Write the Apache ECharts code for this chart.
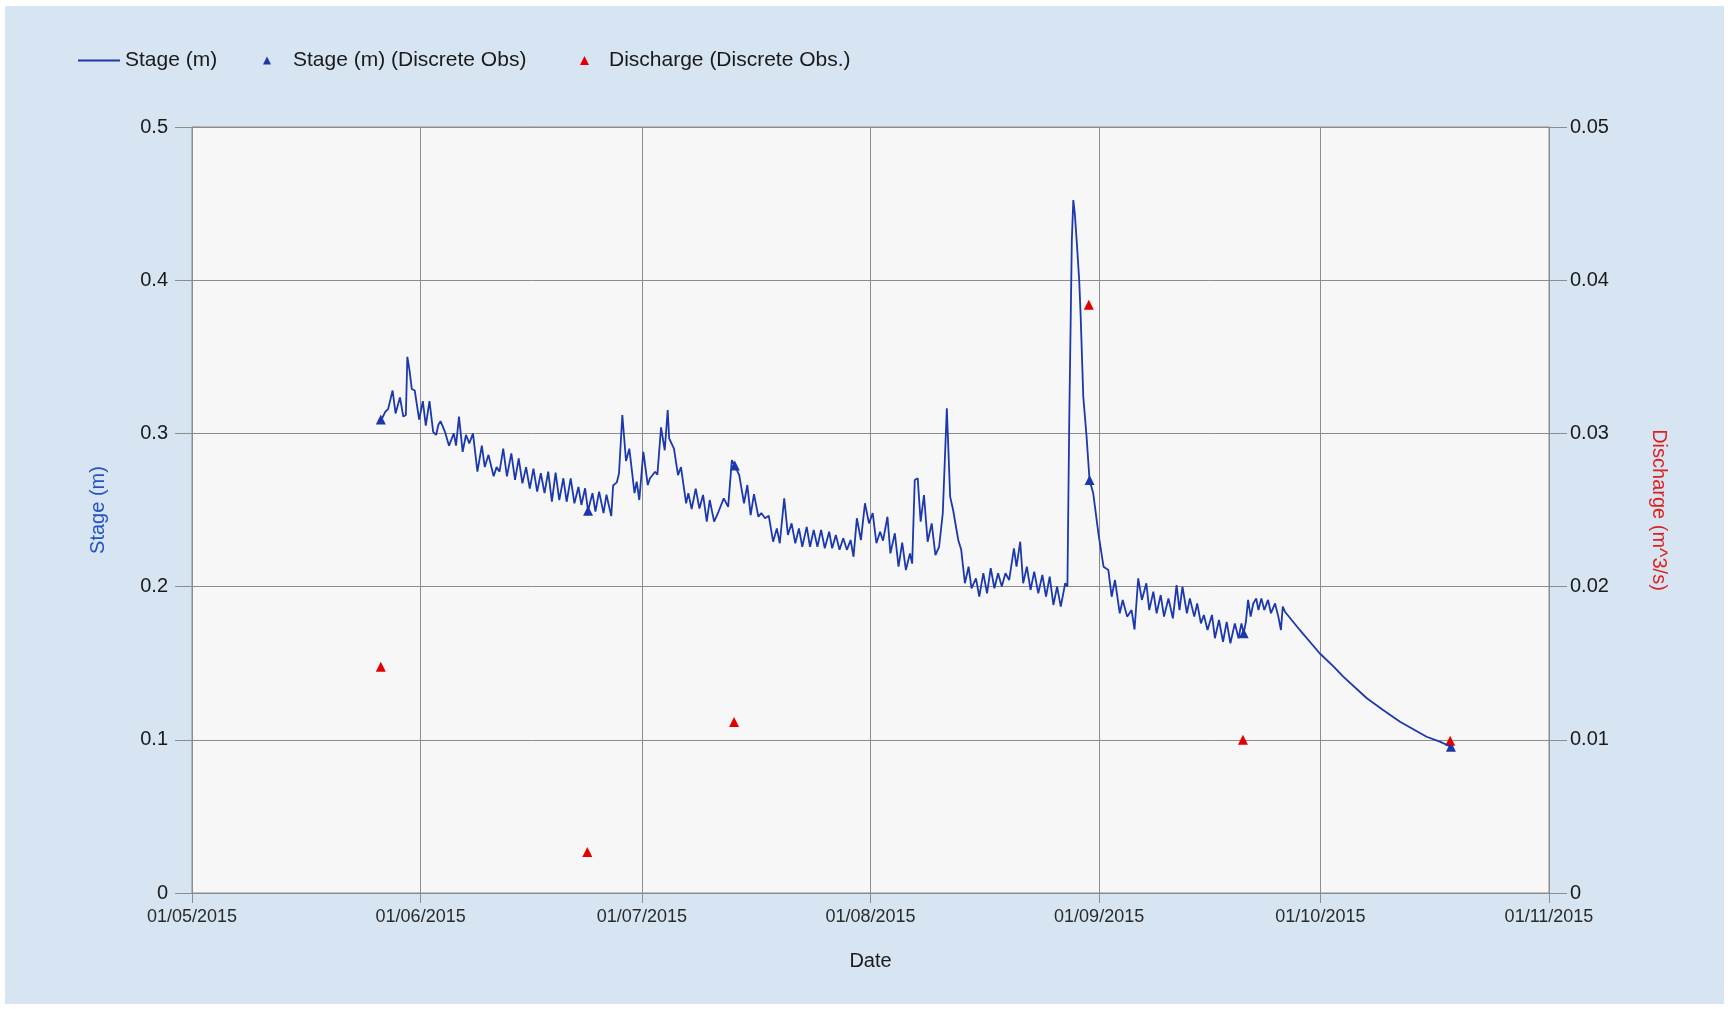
<!DOCTYPE html>
<html><head><meta charset="utf-8">
<script src="https://cdn.jsdelivr.net/npm/echarts@6/dist/echarts.min.js"></script>
<style>
html,body{margin:0;padding:0;background:#ffffff;width:1732px;height:1009px;overflow:hidden}
#c{position:absolute;left:5px;top:6px;width:1719px;height:998px;}
</style></head><body><div id="c"></div>
<script>
// x axis: month ticks
const xTickDates = ['2015-05-01','2015-06-01','2015-07-01','2015-08-01','2015-09-01','2015-10-01','2015-11-01'];
// stage continuous record: [days since 01/05/2015, stage m]
const stagePoints = [
[25.3,0.309],[25.6,0.308],[26.2,0.314],[26.6,0.316],[27.2,0.328],[27.6,0.313],[28.2,0.3235],[28.65,0.311],[29.0,0.312],
[29.2,0.350],[29.5,0.341],[29.8,0.329],[30.2,0.328],[30.8,0.309],[31.3,0.321],[31.7,0.305],[32.2,0.321],[32.7,0.301],
[33.1,0.299],[33.4,0.3055],[33.7,0.308],[34.3,0.301],[34.85,0.292],[35.5,0.300],[35.8,0.292],[36.2,0.311],[36.7,0.288],
[37.15,0.299],[37.6,0.2935],[38.1,0.300],[38.7,0.275],[39.3,0.292],[39.7,0.278],[40.2,0.286],[40.9,0.272],[41.3,0.278],
[41.7,0.275],[42.2,0.290],[42.7,0.272],[43.3,0.287],[43.8,0.2696],[44.3,0.2837],[44.8,0.2674],[45.3,0.278],[45.8,0.264],
[46.3,0.277],[46.8,0.262],[47.3,0.274],[47.8,0.261],[48.3,0.275],[48.8,0.2554],[49.3,0.2744],[49.8,0.2565],[50.35,0.2707],
[50.8,0.2554],[51.35,0.2707],[51.85,0.2544],[52.4,0.265],[52.8,0.2533],[53.3,0.2642],[53.7,0.2495],[54.3,0.261],[54.7,0.249],
[55.2,0.262],[55.8,0.248],[56.2,0.260],[56.85,0.246],[57.1,0.266],[57.6,0.268],[57.9,0.274],[58.35,0.312],[58.85,0.282],
[59.3,0.290],[60.0,0.261],[60.3,0.2685],[60.65,0.2565],[61.2,0.288],[61.8,0.2663],[62.1,0.2707],[62.8,0.275],[63.1,0.273],
[63.6,0.304],[64.1,0.289],[64.5,0.3153],[64.7,0.2968],[65.35,0.290],[65.9,0.2728],[66.3,0.278],[67.0,0.2544],[67.3,0.261],
[67.75,0.2506],[68.3,0.264],[68.8,0.251],[69.3,0.2598],[69.8,0.2424],[70.2,0.2565],[70.8,0.2424],[71.4,0.249],[72.1,0.2576],
[72.7,0.252],[73.2,0.2826],[73.6,0.279],[74.2,0.2728],[74.85,0.2544],[75.3,0.2663],[75.75,0.2467],[76.2,0.2604],[76.8,0.2456],
[77.2,0.248],[77.7,0.2446],[78.2,0.2463],[78.8,0.2293],[79.3,0.238],[79.7,0.2283],[80.3,0.2576],[80.8,0.2337],[81.3,0.2413],
[81.8,0.2283],[82.3,0.238],[82.75,0.226],[83.35,0.239],[83.8,0.226],[84.3,0.237],[84.8,0.226],[85.3,0.237],[85.8,0.225],
[86.4,0.2358],[86.8,0.225],[87.3,0.2337],[87.8,0.224],[88.3,0.2315],[88.8,0.224],[89.3,0.2304],[89.7,0.2195],[90.15,0.2446],
[90.7,0.2304],[91.25,0.2544],[91.8,0.2413],[92.3,0.248],[92.8,0.2283],[93.3,0.2358],[93.7,0.230],[94.3,0.2456],[94.7,0.2217],
[95.3,0.2348],[95.8,0.213],[96.3,0.2287],[96.8,0.2108],[97.35,0.2217],[97.65,0.215],[98.0,0.2696],[98.4,0.2707],[98.8,0.2424],
[99.25,0.2598],[99.75,0.2293],[100.3,0.2413],[100.8,0.2206],[101.3,0.226],[101.8,0.2478],[102.35,0.3164],[102.8,0.2587],
[103.2,0.250],[103.9,0.2304],[104.3,0.224],[104.8,0.2022],[105.3,0.213],[105.7,0.1989],[106.3,0.2054],[106.75,0.1934],
[107.3,0.2087],[107.8,0.1956],[108.3,0.212],[108.8,0.1989],[109.3,0.2087],[109.8,0.200],[110.3,0.2087],[110.8,0.2043],
[111.45,0.225],[111.8,0.213],[112.3,0.2293],[112.7,0.2022],[113.2,0.213],[113.7,0.1978],[114.2,0.2098],[114.75,0.1956],
[115.3,0.2076],[115.8,0.1934],[116.3,0.2065],[116.8,0.188],[117.3,0.200],[117.8,0.1869],[118.4,0.2022],[118.7,0.200],
[118.95,0.3087],[119.3,0.4262],[119.5,0.4523],[119.7,0.4437],[119.95,0.4262],[120.3,0.400],[120.5,0.3762],[120.85,0.324],
[121.3,0.2978],[121.7,0.2696],[122.2,0.2609],[122.9,0.2348],[123.6,0.213],[124.25,0.2108],[124.7,0.1934],[125.15,0.2043],
[125.8,0.1826],[126.2,0.1913],[126.8,0.1804],[127.4,0.1847],[127.8,0.172],[128.3,0.2054],[128.8,0.1913],[129.4,0.2022],
[129.8,0.1847],[130.35,0.1967],[130.8,0.1826],[131.35,0.1945],[131.8,0.1804],[132.4,0.1923],[133.0,0.1793],[133.5,0.201],
[133.9,0.1847],[134.3,0.200],[134.9,0.1826],[135.3,0.1923],[135.9,0.1804],[136.3,0.189],[136.8,0.176],[137.2,0.1815],
[137.7,0.1717],[138.3,0.1815],[138.7,0.1663],[139.25,0.1782],[139.8,0.164],[140.3,0.177],[140.8,0.163],[141.4,0.176],
[141.9,0.1663],[142.3,0.176],[142.6,0.1695],[142.9,0.177],[143.2,0.1913],[143.55,0.1804],[143.9,0.189],[144.3,0.1923],
[144.6,0.1847],[145.0,0.1923],[145.4,0.1847],[145.9,0.1913],[146.3,0.1826],[146.85,0.189],[147.3,0.1804],[147.65,0.1717],
[147.9,0.1869],[148.2,0.1836],[150.2,0.1717],[152.9,0.1565],[154.8,0.1477],[156.1,0.1412],[159.3,0.1271],[161.5,0.1195],
[163.8,0.1118],[167.4,0.102],[169.2,0.0988],[170.7,0.0955]
];
// discrete observations
const stageObsDays = [25.6, 53.7, 73.6, 121.7, 142.6, 170.7];
const stageObsValues = [0.309, 0.2495, 0.279, 0.2696, 0.1695, 0.0955];
const dischargeObsDays = [25.6, 53.6, 73.5, 121.6, 142.5, 170.6];
const dischargeObsValues = [0.01477, 0.00267, 0.01117, 0.0384, 0.0100, 0.00994];

const DAY = 86400000;
const t0 = new Date(2015, 4, 1).getTime();
const parseDay = s => { const p = s.split('-').map(Number); return new Date(p[0], p[1]-1, p[2]).getTime(); };
const xTicks = xTickDates.map(s => Math.round((parseDay(s) - t0) / DAY));
const pad = n => (n < 10 ? '0' : '') + n;
const fmtDay = v => { const d = new Date(t0 + v * DAY + 3600000 * 2); return pad(d.getDate()) + '/' + pad(d.getMonth()+1) + '/' + d.getFullYear(); };

const FONT = 'Liberation Sans, Arial, sans-serif';
const gridColor = '#8c8c8c';
const blue = '#1b38ad';
const red = '#e30000';

const chart = echarts.init(document.getElementById('c'));
chart.setOption({
  animation: false,
  backgroundColor: '#d7e4f1',
  textStyle: { fontFamily: FONT },
  legend: [
    { data: ['Stage (m)'], left: 68, top: 39, icon: 'rect', itemWidth: 42, itemHeight: 2,
      textStyle: { fontSize: 21, color: '#1a1a1a', fontFamily: FONT } },
    { data: ['Stage (m) (Discrete Obs)'], left: 253, top: 39, icon: 'triangle', itemWidth: 8, itemHeight: 8,
      textStyle: { fontSize: 21, color: '#1a1a1a', fontFamily: FONT, padding: [0, 0, 0, 17] } },
    { data: ['Discharge (Discrete Obs.)'], left: 570, top: 39, icon: 'triangle', itemWidth: 9, itemHeight: 9,
      textStyle: { fontSize: 21, color: '#1a1a1a', fontFamily: FONT, padding: [0, 0, 0, 15] } }
  ],
  grid: { left: 187, top: 121, width: 1357, height: 766, show: true, backgroundColor: '#f7f7f7', borderColor: gridColor, borderWidth: 1 },
  xAxis: {
    type: 'value', min: xTicks[0], max: xTicks[xTicks.length-1],
    name: 'Date', nameLocation: 'middle', nameGap: 58,
    nameTextStyle: { fontSize: 20, color: '#1a1a1a', fontFamily: FONT },
    axisLine: { show: true, lineStyle: { color: gridColor, width: 1 } },
    axisTick: { show: true, length: 10, customValues: xTicks, lineStyle: { color: gridColor } },
    axisLabel: { customValues: xTicks, formatter: v => fmtDay(v), fontSize: 18, color: '#2a2a2a', margin: 15, fontFamily: FONT, hideOverlap: false },
    splitLine: { show: true, lineStyle: { color: gridColor, width: 1 } }
  },
  yAxis: [
    { type: 'value', min: 0, max: 0.5, interval: 0.1, position: 'left',
      name: 'Stage (m)', nameLocation: 'middle', nameGap: 84,
      nameTextStyle: { fontSize: 20, color: '#2353c6', fontFamily: FONT },
      axisLine: { show: true, lineStyle: { color: gridColor } },
      axisTick: { show: true, length: 17, lineStyle: { color: gridColor } },
      axisLabel: { fontSize: 20, color: '#1a1a1a', margin: 24, fontFamily: FONT },
      splitLine: { show: true, lineStyle: { color: gridColor, width: 1 } } },
    { type: 'value', min: 0, max: 0.05, interval: 0.01, position: 'right',
      name: 'Discharge (m^3/s)', nameLocation: 'middle', nameGap: 100, nameRotate: -90,
      nameTextStyle: { fontSize: 20, color: '#e02020', fontFamily: FONT },
      axisLine: { show: true, lineStyle: { color: gridColor } },
      axisTick: { show: true, length: 18, lineStyle: { color: gridColor } },
      axisLabel: { fontSize: 20, color: '#1a1a1a', margin: 21, fontFamily: FONT },
      splitLine: { show: false } }
  ],
  series: [
    { name: 'Stage (m)', type: 'line', yAxisIndex: 0, showSymbol: false, symbol: 'none',
      color: blue, lineStyle: { color: blue, width: 1.8 },
      data: stagePoints },
    { name: 'Stage (m) (Discrete Obs)', type: 'scatter', yAxisIndex: 0, symbol: 'triangle', symbolSize: 10,
      itemStyle: { color: blue, opacity: 1 },
      data: stageObsDays.map((d, i) => [d, stageObsValues[i]]) },
    { name: 'Discharge (Discrete Obs.)', type: 'scatter', yAxisIndex: 1, symbol: 'triangle', symbolSize: 10,
      itemStyle: { color: red, opacity: 1 },
      data: dischargeObsDays.map((d, i) => [d, dischargeObsValues[i]]) }
  ]
});
</script></body></html>
